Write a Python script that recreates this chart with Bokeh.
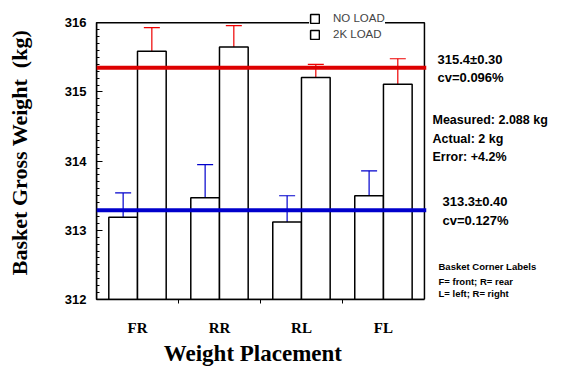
import numpy as np
from bokeh.plotting import figure
from bokeh.layouts import row
from bokeh.models import (Range1d, FixedTicker, Whisker, TeeHead, Span, Label,
                          Legend, LegendItem, ColumnDataSource, BoxAnnotation)
from bokeh.embed import file_html
from bokeh.resources import INLINE

categories = ["FR", "RR", "RL", "FL"]
no_load = [313.19, 313.47, 313.12, 313.50]
no_load_err = [0.35, 0.48, 0.38, 0.36]
load_2k = [315.59, 315.65, 315.21, 315.11]
load_2k_err = [0.34, 0.31, 0.19, 0.37]
mean_2k = 315.35
mean_no_load = 313.29
y_ticks = [312, 313, 314, 315, 316]

n = len(categories)
idx = np.arange(n) + 0.5
bw = 0.35
y_lo, y_hi = y_ticks[0], y_ticks[-1]
yr = Range1d(y_lo, y_hi + 0.25)

p = figure(width=428, height=368, output_backend="svg", toolbar_location=None,
           x_range=Range1d(0, n + 0.025), y_range=yr,
           min_border_left=96, min_border_right=2, min_border_top=5, min_border_bottom=57)
p.grid.visible = False
p.background_fill_color = "white"
p.border_fill_color = "white"
p.outline_line_color = None

src1 = ColumnDataSource(dict(x=idx - bw / 2, top=no_load, up=np.array(no_load) + np.array(no_load_err)))
src2 = ColumnDataSource(dict(x=idx + bw / 2, top=load_2k, up=np.array(load_2k) + np.array(load_2k_err)))

# plot box
p.add_layout(BoxAnnotation(left=0, right=n, bottom=y_lo, top=y_hi, level="underlay",
                           fill_alpha=0, line_color="black", line_width=1.5, line_alpha=1))

r1 = p.vbar(x="x", top="top", bottom=y_lo, width=bw, source=src1,
            fill_color="white", line_color="black", line_width=1.5)
r2 = p.vbar(x="x", top="top", bottom=y_lo, width=bw, source=src2,
            fill_color="white", line_color="black", line_width=1.5)

p.add_layout(Whisker(base="x", lower="top", upper="up", source=src1, dimension="height",
                     line_color="#0000cc", line_width=1.2,
                     upper_head=TeeHead(size=16, line_color="#0000cc", line_width=1.2),
                     lower_head=None))
p.add_layout(Whisker(base="x", lower="top", upper="up", source=src2, dimension="height",
                     line_color="#ee0000", line_width=1.2,
                     upper_head=TeeHead(size=16, line_color="#ee0000", line_width=1.2),
                     lower_head=None))

p.add_layout(Span(location=mean_2k, dimension="width", line_color="#dd0000", line_width=4))
p.add_layout(Span(location=mean_no_load, dimension="width", line_color="#0000cc", line_width=4))

# axes
p.xaxis.bounds = (0, n)
p.xaxis.ticker = FixedTicker(ticks=list(idx), minor_ticks=list(range(1, n)))
p.xaxis.major_label_overrides = {float(v): c for v, c in zip(idx, categories)}
p.xaxis.major_tick_line_color = None
p.xaxis.minor_tick_in = 0
p.xaxis.minor_tick_out = 4
p.xaxis.axis_line_width = 1.5
p.xaxis.major_label_text_font = "Liberation Serif"
p.xaxis.major_label_text_font_style = "bold"
p.xaxis.major_label_text_font_size = "15px"
p.xaxis.major_label_text_color = "black"
p.xaxis.major_label_standoff = 14
p.xaxis.axis_label = "Weight Placement\u00a0\u00a0\u00a0"
p.xaxis.axis_label_text_font = "Liberation Serif"
p.xaxis.axis_label_text_font_style = "bold"
p.xaxis.axis_label_text_font_size = "23px"
p.xaxis.axis_label_text_color = "black"
p.xaxis.axis_label_standoff = 2

p.yaxis.bounds = (y_lo, y_hi)
p.yaxis.ticker = FixedTicker(ticks=y_ticks, minor_ticks=list(np.round(np.arange(y_lo, y_hi + 0.001, 0.1), 1)))
p.yaxis.major_tick_in = 6
p.yaxis.major_tick_out = 0
p.yaxis.minor_tick_in = 3
p.yaxis.minor_tick_out = 0
p.yaxis.axis_line_width = 1.5
p.yaxis.major_label_text_font = "Liberation Sans"
p.yaxis.major_label_text_font_style = "bold"
p.yaxis.major_label_text_font_size = "13px"
p.yaxis.major_label_text_color = "black"
p.yaxis.major_label_standoff = 10
p.yaxis.axis_label = "Basket Gross Weight \u00a0(kg)"
p.yaxis.axis_label_text_font = "Liberation Serif"
p.yaxis.axis_label_text_font_style = "bold"
p.yaxis.axis_label_text_font_size = "22px"
p.yaxis.axis_label_text_color = "black"
p.yaxis.axis_label_standoff = 30

legend = Legend(items=[LegendItem(label="NO LOAD", renderers=[r1]),
                       LegendItem(label="2K LOAD", renderers=[r2])],
                location=(213, 259), orientation="vertical",
                label_text_font="Liberation Sans", label_text_font_size="11.5px",
                glyph_width=11, glyph_height=11, label_height=11, spacing=4,
                padding=4, margin=0, border_line_color=None,
                background_fill_color="white", background_fill_alpha=1.0,
                label_standoff=13)
p.add_layout(legend)

# annotation panel to the right
q = figure(width=142, height=368, output_backend="svg", toolbar_location=None,
           x_range=Range1d(0, 142), y_range=yr,
           min_border_left=0, min_border_right=0, min_border_top=5, min_border_bottom=57)
q.axis.visible = False
q.grid.visible = False
q.outline_line_color = None
q.background_fill_color = "white"
q.border_fill_color = "white"

def note(x, y, text, size="13px"):
    q.add_layout(Label(x=x, y=y, text=text,
                       text_font="Liberation Sans", text_font_style="bold",
                       text_font_size=size, text_baseline="middle", text_color="black"))

note(9, 315.47, "315.4±0.30")
note(9, 315.21, "cv=0.096%")
note(4, 314.60, "Measured: 2.088 kg", "12.5px")
note(4, 314.32, "Actual: 2 kg", "12.5px")
note(4, 314.06, "Error: +4.2%", "12.5px")
note(14, 313.42, "313.3±0.40")
note(14, 313.14, "cv=0.127%")
note(10, 312.47, "Basket Corner Labels", "9.5px")
note(10, 312.26, "F= front; R= rear", "9.5px")
note(10, 312.08, "L= left; R= right", "9.5px")

layout = row(p, q, spacing=0)
open("out.html", "w").write(file_html(layout, INLINE))
